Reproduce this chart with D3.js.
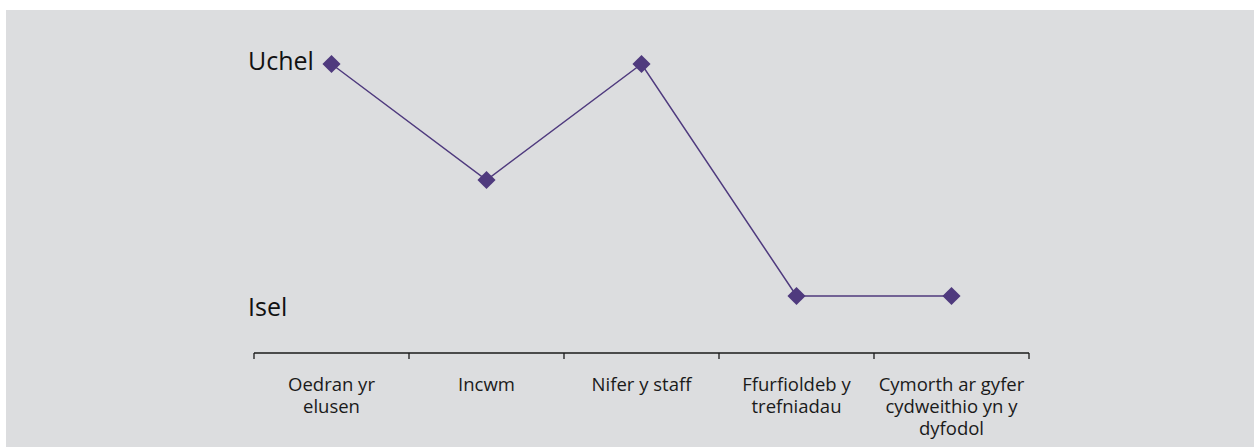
<!DOCTYPE html>
<html><head><meta charset="utf-8">
<script src="https://cdn.jsdelivr.net/npm/d3@7"></script>
<style>body{margin:0;background:#fff;} svg{display:block;}</style>
</head><body>
<svg id="c" width="1259" height="447"></svg>
<script>
const categories = ["Oedran yr elusen", "Incwm", "Nifer y staff", "Ffurfioldeb y trefniadau", "Cymorth ar gyfer cydweithio yn y dyfodol"];
const categoryLines = [["Oedran yr", "elusen"], ["Incwm"], ["Nifer y staff"], ["Ffurfioldeb y", "trefniadau"], ["Cymorth ar gyfer", "cydweithio yn y", "dyfodol"]];
const values = [3, 2, 3, 1, 1];
const levelLabels = [{v: 3.02, t: "Uchel"}, {v: 0.9, t: "Isel"}];

const svg = d3.select("#c");
const font = "'Open Sans', sans-serif";
svg.append("rect").attr("x", 6).attr("y", 10).attr("width", 1248).attr("height", 437).attr("fill", "#dcdddf");

const x = d3.scaleBand().domain(categories).range([254, 1029]).padding(0);
const y = d3.scaleLinear().domain([1, 3]).range([296, 64]);

// axis
const axisY = 353;
svg.append("line").attr("x1", 254).attr("x2", 1029).attr("y1", axisY).attr("y2", axisY)
  .attr("stroke", "#1a1a1a").attr("stroke-width", 1.3);
const bounds = categories.map(c => x(c)).concat([x.range()[1]]);
svg.selectAll("line.tick").data(bounds).join("line").attr("class", "tick")
  .attr("x1", d => d).attr("x2", d => d).attr("y1", axisY).attr("y2", axisY + 6)
  .attr("stroke", "#1a1a1a").attr("stroke-width", 1.3);

// category labels
categories.forEach((c, i) => {
  const t = svg.append("text").attr("x", x(c) + x.bandwidth() / 2).attr("y", 391)
    .attr("text-anchor", "middle").attr("font-family", font).attr("font-size", 18.5).attr("fill", "#1a1a1a");
  categoryLines[i].forEach((ln, j) => {
    t.append("tspan").attr("x", x(c) + x.bandwidth() / 2).attr("dy", j === 0 ? 0 : 22).text(ln);
  });
});

// level labels
svg.selectAll("text.lvl").data(levelLabels).join("text").attr("class", "lvl")
  .attr("x", 248).attr("y", d => y(d.v) + 8).attr("font-family", font).attr("font-size", 25)
  .attr("fill", "#111").text(d => d.t);

// line
const line = d3.line().x((d, i) => x(categories[i]) + x.bandwidth() / 2).y(d => y(d));
svg.append("path").datum(values).attr("d", line).attr("fill", "none")
  .attr("stroke", "#4f3a7e").attr("stroke-width", 1.5);

// markers
svg.selectAll("path.m").data(values).join("path").attr("class", "m")
  .attr("d", d3.symbol().type(d3.symbolSquare).size(165))
  .attr("transform", (d, i) => `translate(${x(categories[i]) + x.bandwidth() / 2},${y(d)}) rotate(45)`)
  .attr("fill", "#4f3a7e");
</script>
</body></html>
